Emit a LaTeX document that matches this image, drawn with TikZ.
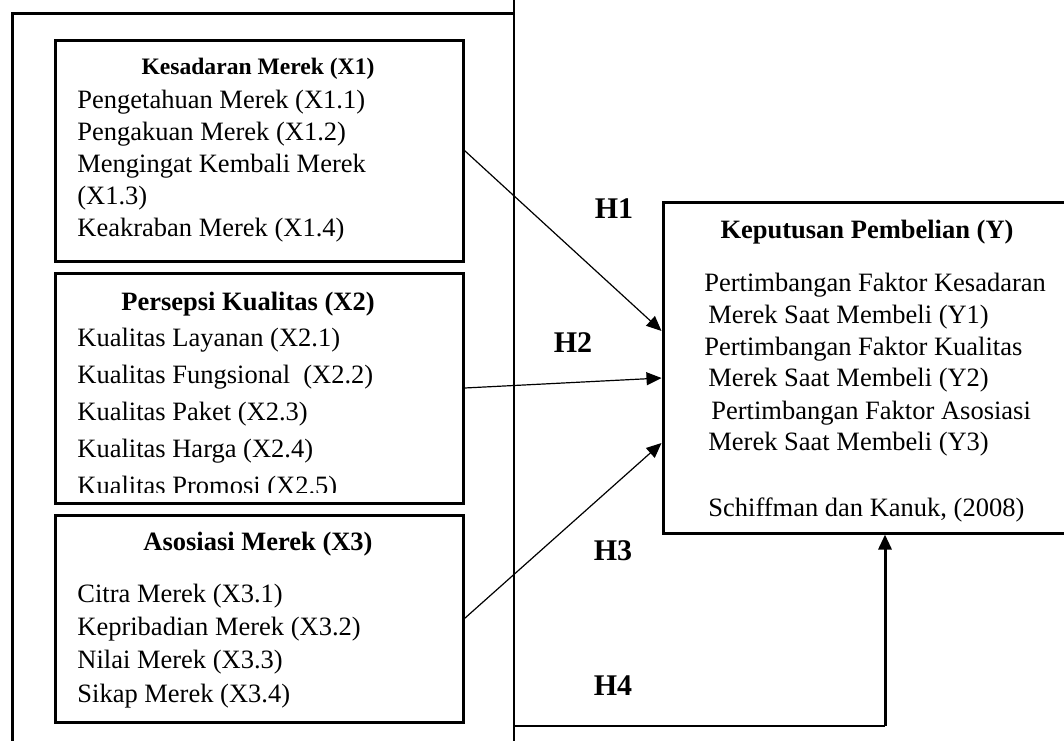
\documentclass[tikz,border=0pt]{standalone}
\usepackage{fontspec}
\setmainfont{Liberation Serif}
\usetikzlibrary{arrows.meta}

\begin{document}
\begin{tikzpicture}
  [x=0.5pt,y=-0.5pt,every node/.style={inner sep=0pt,font=\fontsize{13.25pt}{16pt}\selectfont}]
  \tikzstyle{box} = [draw,line width=1.5pt,minimum width=204pt]
  \tikzstyle{item} = [anchor=base west]
  \tikzstyle{head} = [anchor=base,font=\fontsize{13.25pt}{16pt}\selectfont\bfseries]
  \tikzstyle{hyp} = [font=\fontsize{15pt}{18pt}\selectfont\bfseries]
  \tikzstyle{link} = [line width=0.6pt,-{Triangle[length=7.5pt,width=6.5pt]}]
  \useasboundingbox (0,0) rectangle (1064,740);
  \clip (0,0) rectangle (1064,740);
  % frame round the variables
  \draw[line width=1.5pt] (12,745) -- (12,13) -- (514,13);
  \draw[line width=0.6pt] (514,-2) -- (514,745);
  % boxes
  \node[box,minimum height=110.5pt] (x1) at (259,150.5) {};
  \node[box,minimum height=115pt] (x2) at (259,388) {};
  \node[box,minimum height=103.5pt] (x3) at (259,618.5) {};
  \node[box,minimum width=205pt,minimum height=165.5pt] (y) at (868,367.5) {};
  % X1
  \node[head,font=\fontsize{11.8pt}{14pt}\selectfont\bfseries] (t1) at (258,74) {Kesadaran Merek (X1)};
  \foreach \yy/\txt [count=\i] in {108/Pengetahuan Merek (X1.1),140/Pengakuan Merek (X1.2),
      172/Mengingat Kembali Merek,204/(X1.3),236/Keakraban Merek (X1.4)}
    \node[item] (a\i) at (77,\yy) {\txt};
  % X2
  \node[head] (t2) at (248,310) {Persepsi Kualitas (X2)};
  \begin{scope}
    \clip (55,273) rectangle (463,492);
    \foreach \yy/\txt [count=\i] in {346/Kualitas Layanan (X2.1),383/Kualitas Fungsional~~(X2.2),
        420/Kualitas Paket (X2.3),457/Kualitas Harga (X2.4),494/Kualitas Promosi (X2.5)}
      \node[item] (b\i) at (77,\yy) {\txt};
  \end{scope}
  % X3
  \node[head] (t3) at (258,550) {Asosiasi Merek (X3)};
  \foreach \yy/\txt [count=\i] in {602/Citra Merek (X3.1),635/Kepribadian Merek (X3.2),
      668/Nilai Merek (X3.3),702/Sikap Merek (X3.4)}
    \node[item] (c\i) at (77,\yy) {\txt};
  % Y
  \node[head] (ty) at (867,238) {Keputusan Pembelian (Y)};
  \foreach \xx/\yy/\txt [count=\i] in {704/291/Pertimbangan Faktor Kesadaran,708/323/Merek Saat Membeli (Y1),
      704/355/Pertimbangan Faktor Kualitas,708/386/Merek Saat Membeli (Y2),
      711/419/Pertimbangan Faktor Asosiasi,708/450/Merek Saat Membeli (Y3),
      708/516/{Schiffman dan Kanuk, (2008)}}
    \node[item] (d\i) at (\xx,\yy) {\txt};
  % hypotheses
  \draw[link] (x1.east) -- ([yshift=18.25pt]y.west);
  \draw[link] (x2.east) -- ([yshift=-5.25pt]y.west);
  \draw[link] (x3.east) -- ([yshift=-37.75pt]y.west);
  \coordinate (h4s) at (514,726);
  \coordinate (h4c) at (885,726);
  \draw[line width=0.9pt] (h4s) -- (h4c);
  \draw[link,line width=1.5pt] (h4c) -- (h4c |- y.south);
  \node[hyp] (h1) at (614,209) {H1};
  \node[hyp] (h2) at (573,343) {H2};
  \node[hyp] (h3) at (613,551) {H3};
  \node[hyp] (h4) at (613,686) {H4};
\end{tikzpicture}
\end{document}
